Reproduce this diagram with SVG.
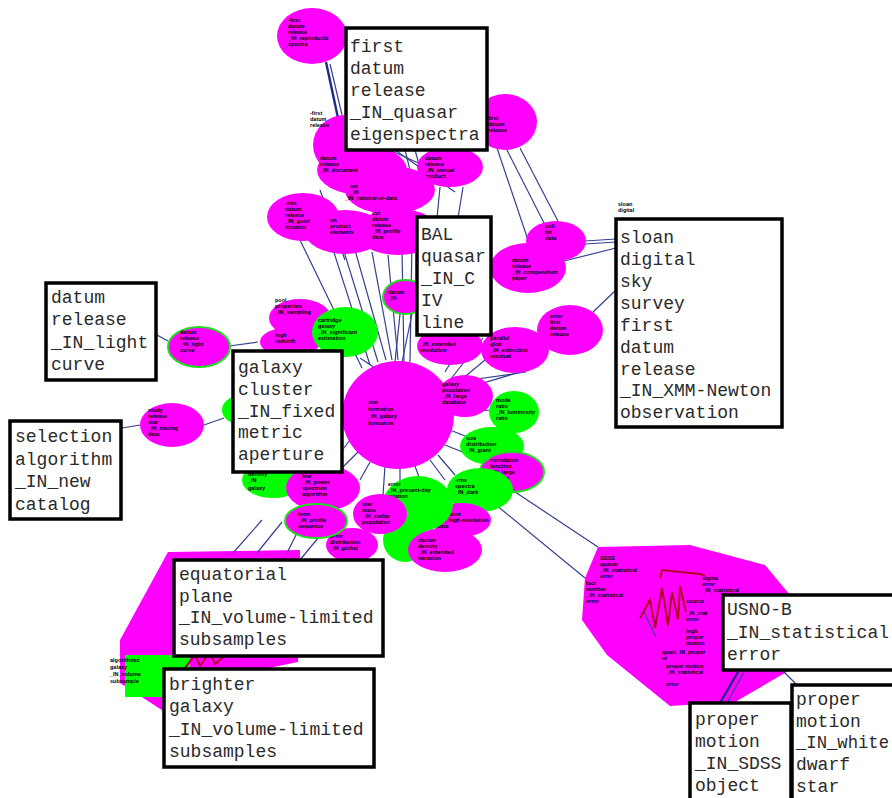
<svg xmlns="http://www.w3.org/2000/svg" width="892" height="798" viewBox="0 0 892 798">
<style>
.m{fill:#ff00ff}
.g{fill:#00ff00}
.mo{fill:#ff00ff;stroke:#22dd22;stroke-width:2}
.box{fill:#ffffff;stroke:#000000;stroke-width:3.5}
.lbl{font-family:"Liberation Mono","DejaVu Sans Mono",monospace;font-size:18px;fill:#2a2a2a}
.t{font-family:"Liberation Sans","DejaVu Sans",sans-serif;font-size:5.5px;fill:#000;font-weight:bold}
#connectors line{stroke:#35408f;stroke-width:1.2}
.thick{stroke-width:2.4 !important;stroke:#1c2a8a !important}
.red{fill:none;stroke:#b0002a;stroke-width:2}
</style>
<rect width="892" height="798" fill="#ffffff"/>

<!-- polygon clusters -->
<g id="cluster-lower-left">
<polygon class="m" points="168,552 300,550 300,600 298,662 230,676 165,712 120,683 120,640 150,585"/>
<rect class="g" x="125" y="655" width="65" height="42"/>
<text class="t" x="110" y="662">algorithmic</text>
<text class="t" x="110" y="669">galaxy</text>
<text class="t" x="110" y="676">_IN_volume</text>
<text class="t" x="110" y="683">subsample</text>
<path class="red" d="M185,668 L195,655 L200,666 L210,652 L215,664 L228,653"/>
</g>
<g id="cluster-lower-right">
<polygon class="m" points="598,547 690,545 765,565 790,595 790,670 735,702 670,706 607,655 582,620 585,578"/>
<text class="t" x="600" y="560">SDSS</text>
<text class="t" x="600" y="566">quasar</text>
<text class="t" x="600" y="572">_IN_statistical</text>
<text class="t" x="600" y="578">error</text>
<text class="t" x="586" y="585">fact</text>
<text class="t" x="586" y="591">number</text>
<text class="t" x="586" y="597">_IN_statistical</text>
<text class="t" x="586" y="603">error</text>
<text class="t" x="702" y="580">sigma</text>
<text class="t" x="702" y="586">error</text>
<text class="t" x="702" y="592">_IN_statistical</text>
<text class="t" x="686" y="603">source</text>
<text class="t" x="686" y="615">_IN_stat</text>
<text class="t" x="686" y="621">error</text>
<text class="t" x="686" y="633">high</text>
<text class="t" x="686" y="639">proper</text>
<text class="t" x="686" y="645">motion</text>
<text class="t" x="662" y="654">quasi_IN_proper</text>
<text class="t" x="662" y="660">or</text>
<text class="t" x="666" y="668">proper motion</text>
<text class="t" x="666" y="674">_IN_statistical</text>
<text class="t" x="666" y="686">error</text>
<path class="red" d="M660,578 L662,570 L700,574 L705,576"/>
<path class="red" d="M640,618 L650,600 L655,628 L662,588 L668,626 L672,592 L678,620 L680,586 L686,612"/>
</g>

<!-- connectors -->
<g id="connectors">
<line class="thick" x1="326" y1="62" x2="338" y2="118"/>
<line x1="330" y1="64" x2="342" y2="115"/>
<line x1="330" y1="240" x2="370" y2="365"/>
<line x1="342" y1="245" x2="378" y2="362"/>
<line x1="355" y1="250" x2="386" y2="360"/>
<line x1="372" y1="252" x2="392" y2="360"/>
<line x1="388" y1="255" x2="398" y2="360"/>
<line x1="402" y1="250" x2="404" y2="362"/>
<line x1="412" y1="240" x2="410" y2="362"/>
<line x1="300" y1="240" x2="362" y2="368"/>
<line x1="320" y1="190" x2="345" y2="260"/>
<line x1="360" y1="150" x2="420" y2="185"/>
<line x1="375" y1="150" x2="430" y2="190"/>
<line x1="385" y1="148" x2="445" y2="175"/>
<line x1="395" y1="150" x2="455" y2="192"/>
<line x1="405" y1="150" x2="410" y2="170"/>
<line x1="415" y1="150" x2="420" y2="168"/>
<line x1="440" y1="187" x2="437" y2="218"/>
<line x1="463" y1="187" x2="458" y2="218"/>
<line x1="497" y1="148" x2="528" y2="240"/>
<line x1="507" y1="150" x2="545" y2="225"/>
<line x1="520" y1="148" x2="560" y2="225"/>
<line x1="585" y1="241" x2="616" y2="239"/>
<line x1="585" y1="244" x2="616" y2="242"/>
<line x1="560" y1="262" x2="616" y2="248"/>
<line x1="593" y1="312" x2="616" y2="290"/>
<line x1="470" y1="330" x2="445" y2="372"/>
<line x1="483" y1="338" x2="450" y2="380"/>
<line x1="497" y1="350" x2="455" y2="385"/>
<line x1="520" y1="372" x2="460" y2="390"/>
<line x1="526" y1="372" x2="470" y2="380"/>
<line x1="400" y1="314" x2="395" y2="362"/>
<line x1="412" y1="314" x2="402" y2="362"/>
<line x1="360" y1="358" x2="375" y2="368"/>
<line x1="452" y1="412" x2="495" y2="410"/>
<line x1="450" y1="430" x2="470" y2="438"/>
<line x1="445" y1="445" x2="470" y2="455"/>
<line x1="438" y1="455" x2="455" y2="475"/>
<line x1="430" y1="460" x2="445" y2="480"/>
<line x1="415" y1="466" x2="420" y2="480"/>
<line x1="400" y1="468" x2="400" y2="482"/>
<line x1="385" y1="466" x2="383" y2="495"/>
<line x1="370" y1="462" x2="360" y2="480"/>
<line x1="358" y1="452" x2="340" y2="470"/>
<line x1="350" y1="440" x2="330" y2="466"/>
<line x1="500" y1="482" x2="598" y2="547"/>
<line x1="490" y1="500" x2="585" y2="578"/>
<line x1="262" y1="520" x2="233" y2="553"/>
<line x1="282" y1="522" x2="257" y2="553"/>
<line x1="300" y1="527" x2="287" y2="553"/>
<line x1="318" y1="538" x2="300" y2="560"/>
<line x1="157" y1="335" x2="168" y2="341"/>
<line x1="229" y1="346" x2="258" y2="342"/>
<line x1="122" y1="428" x2="140" y2="425"/>
<line x1="204" y1="425" x2="224" y2="418"/>
<line class="thick" x1="738" y1="672" x2="720" y2="703"/>
<line x1="744" y1="672" x2="727" y2="703"/>
<line x1="782" y1="670" x2="798" y2="686"/>
<line x1="644" y1="612" x2="656" y2="637"/>
</g>

<!-- ellipse nodes -->
<g id="n-top"><ellipse class="m" cx="312" cy="36" rx="35" ry="28"/>
<text class="t" x="288" y="22">-first</text><text class="t" x="288" y="28">datum</text><text class="t" x="288" y="34">release</text><text class="t" x="288" y="40">_IN_reproducib</text><text class="t" x="288" y="46">spectra</text></g>
<g id="n-topright"><ellipse class="m" cx="505" cy="122" rx="32" ry="28"/>
<text class="t" x="488" y="120">first</text><text class="t" x="488" y="126">datum</text><text class="t" x="488" y="132">release</text></g>
<g id="n-c1"><ellipse class="m" cx="345" cy="145" rx="32" ry="30"/>
<text class="t" x="310" y="115">-first</text><text class="t" x="310" y="121">datum</text><text class="t" x="310" y="127">release</text></g>
<g id="n-c2"><ellipse class="m" cx="362" cy="170" rx="45" ry="25"/>
<text class="t" x="320" y="160">datum</text><text class="t" x="320" y="166">release</text><text class="t" x="320" y="172">_IN_document</text></g>
<g id="n-c3"><ellipse class="m" cx="450" cy="167" rx="33" ry="20"/>
<text class="t" x="425" y="160">datum</text><text class="t" x="425" y="166">release</text><text class="t" x="425" y="172">_IN_annual</text><text class="t" x="425" y="178">product</text></g>
<g id="n-c4"><ellipse class="m" cx="390" cy="190" rx="45" ry="24"/>
<text class="t" x="350" y="188">sm</text><text class="t" x="350" y="194">_IN</text><text class="t" x="345" y="200">_IN_rational-or-data</text></g>
<g id="n-c5"><ellipse class="m" cx="303" cy="217" rx="36" ry="24"/>
<text class="t" x="285" y="205">-obs</text><text class="t" x="285" y="211">datum</text><text class="t" x="285" y="217">release</text><text class="t" x="285" y="223">_IN_good</text><text class="t" x="285" y="229">instance</text></g>
<g id="n-c6"><ellipse class="m" cx="345" cy="232" rx="40" ry="22"/>
<text class="t" x="330" y="222">on</text><text class="t" x="330" y="228">product</text><text class="t" x="330" y="234">elements</text></g>
<g id="n-c7"><ellipse class="m" cx="398" cy="232" rx="42" ry="23"/>
<text class="t" x="372" y="215">cut</text><text class="t" x="372" y="221">datum</text><text class="t" x="372" y="227">release</text><text class="t" x="372" y="233">_IN_profile</text><text class="t" x="372" y="239">data</text></g>
<g id="n-s1"><ellipse class="m" cx="556" cy="241" rx="30" ry="20"/>
<text class="t" x="545" y="228">coll</text><text class="t" x="545" y="234">bit</text><text class="t" x="545" y="240">data</text></g>
<g id="n-s2"><ellipse class="m" cx="528" cy="268" rx="38" ry="25"/>
<text class="t" x="512" y="262">datum</text><text class="t" x="512" y="268">release</text><text class="t" x="512" y="274">_IN_compendium</text><text class="t" x="512" y="280">paper</text></g>
<g id="n-s3"><ellipse class="m" cx="570" cy="330" rx="33" ry="25"/>
<text class="t" x="550" y="318">error</text><text class="t" x="550" y="324">first</text><text class="t" x="550" y="330">datum</text><text class="t" x="550" y="336">release</text></g>
<g id="n-s4"><ellipse class="m" cx="515" cy="350" rx="34" ry="23"/>
<text class="t" x="490" y="340">parallel</text><text class="t" x="490" y="346">glob</text><text class="t" x="490" y="352">_IN_extinction</text><text class="t" x="490" y="358">residual</text></g>
<g id="n-bal"><ellipse class="m" cx="450" cy="346" rx="33" ry="19"/>
<text class="t" x="420" y="346">_IN_extended</text><text class="t" x="420" y="352">resolution</text></g>
<g id="n-bal2"><ellipse class="mo" cx="405" cy="297" rx="22" ry="17"/>
<text class="t" x="388" y="294">datum</text><text class="t" x="388" y="300">_IN</text></g>
<g id="n-center"><ellipse class="m" cx="398" cy="415" rx="56" ry="54"/>
<text class="t" x="368" y="404">star</text><text class="t" x="368" y="411">formation</text><text class="t" x="368" y="418">_IN_galaxy</text><text class="t" x="368" y="425">formation</text></g>
<g id="n-db"><ellipse class="m" cx="465" cy="396" rx="28" ry="21"/>
<text class="t" x="442" y="386">galaxy</text><text class="t" x="442" y="392">population</text><text class="t" x="442" y="398">_IN_large</text><text class="t" x="442" y="404">database</text></g>
<g id="n-g1"><ellipse class="g" cx="514" cy="412" rx="25" ry="21"/>
<text class="t" x="496" y="402">mode</text><text class="t" x="496" y="408">ratio</text><text class="t" x="496" y="414">_IN_luminosity</text><text class="t" x="496" y="420">ratio</text></g>
<g id="n-g2"><ellipse class="g" cx="492" cy="446" rx="32" ry="19"/>
<text class="t" x="466" y="440">size</text><text class="t" x="466" y="446">distribution</text><text class="t" x="466" y="452">_IN_giant</text></g>
<g id="n-g3"><ellipse class="mo" cx="512" cy="472" rx="32" ry="20"/>
<text class="t" x="490" y="462">correlation</text><text class="t" x="490" y="468">function</text><text class="t" x="490" y="474">_IN_large</text><text class="t" x="490" y="480">sample</text></g>
<g id="n-g4"><ellipse class="g" cx="480" cy="490" rx="33" ry="22"/>
<text class="t" x="455" y="482">-rms</text><text class="t" x="455" y="488">spectra</text><text class="t" x="455" y="494">_IN_dark</text></g>
<g id="n-g5"><ellipse class="m" cx="461" cy="520" rx="30" ry="17"/>
<text class="t" x="437" y="516">emission</text><text class="t" x="437" y="522">_IN_high-resolution</text><text class="t" x="437" y="528">data</text></g>
<g id="n-g6"><ellipse class="g" cx="418" cy="504" rx="35" ry="28"/>
<text class="t" x="388" y="486">error</text><text class="t" x="388" y="492">_IN_present-day</text><text class="t" x="388" y="498">relation</text></g>
<g id="n-g7"><ellipse class="g" cx="405" cy="540" rx="22" ry="22"/></g>
<g id="n-g8"><ellipse class="m" cx="445" cy="550" rx="37" ry="22"/>
<text class="t" x="418" y="542">cluster</text><text class="t" x="418" y="548">density</text><text class="t" x="418" y="554">_IN_extended</text><text class="t" x="418" y="560">variation</text></g>
<g id="n-l1"><ellipse class="m" cx="380" cy="514" rx="27" ry="20"/>
<text class="t" x="362" y="506">star</text><text class="t" x="362" y="512">mass</text><text class="t" x="362" y="518">_IN_stellar</text><text class="t" x="362" y="524">population</text></g>
<g id="n-l2"><ellipse class="m" cx="352" cy="545" rx="26" ry="17"/>
<text class="t" x="330" y="538">error</text><text class="t" x="330" y="544">distribution</text><text class="t" x="330" y="550">_IN_global</text></g>
<g id="n-l3"><ellipse class="g" cx="273" cy="480" rx="31" ry="18"/>
<text class="t" x="248" y="476">density</text><text class="t" x="248" y="482">_IN</text><text class="t" x="248" y="490">galaxy</text></g>
<g id="n-l4"><ellipse class="m" cx="323" cy="488" rx="37" ry="23"/>
<text class="t" x="302" y="478">low</text><text class="t" x="302" y="484">_IN_power</text><text class="t" x="302" y="490">spectrum</text><text class="t" x="302" y="496">algorithm</text></g>
<g id="n-l5"><ellipse class="mo" cx="316" cy="521" rx="31" ry="17"/>
<text class="t" x="298" y="516">form</text><text class="t" x="298" y="522">_IN_profile</text><text class="t" x="298" y="528">sequence</text></g>
<g id="n-ul1"><ellipse class="m" cx="300" cy="318" rx="31" ry="19"/>
<text class="t" x="275" y="302">pool</text><text class="t" x="275" y="308">properties</text><text class="t" x="275" y="314">_IN_sampling</text></g>
<g id="n-ul2"><ellipse class="m" cx="290" cy="342" rx="30" ry="15"/>
<text class="t" x="275" y="337">high</text><text class="t" x="275" y="343">redshift</text></g>
<g id="n-ul3"><ellipse class="g" cx="345" cy="332" rx="33" ry="25"/>
<text class="t" x="318" y="322">cartridge</text><text class="t" x="318" y="328">galaxy</text><text class="t" x="318" y="334">_IN_significant</text><text class="t" x="318" y="340">estimation</text></g>
<g id="n-lc"><ellipse class="mo" cx="199" cy="347" rx="31" ry="20"/>
<text class="t" x="180" y="334">datum</text><text class="t" x="180" y="340">release</text><text class="t" x="180" y="346">_IN_light</text><text class="t" x="180" y="352">curve</text></g>
<g id="n-gl"><ellipse class="g" cx="240" cy="410" rx="18" ry="14"/></g>
<g id="n-sel"><ellipse class="m" cx="172" cy="425" rx="32" ry="22"/>
<text class="t" x="148" y="412">study</text><text class="t" x="148" y="418">release</text><text class="t" x="148" y="424">star</text><text class="t" x="148" y="430">_IN_tracing</text><text class="t" x="148" y="436">data</text></g>
<text class="t" x="618" y="206">sloan</text><text class="t" x="618" y="212">digital</text>

<!-- label boxes -->
<g id="box-quasar-eigenspectra"><rect class="box" x="346" y="28" width="141" height="122"/>
<text class="lbl" x="350" y="52">first</text><text class="lbl" x="350" y="74">datum</text><text class="lbl" x="350" y="96">release</text><text class="lbl" x="350" y="118">_IN_quasar</text><text class="lbl" x="350" y="140">eigenspectra</text></g>
<g id="box-bal"><rect class="box" x="417" y="217" width="74" height="118"/>
<text class="lbl" x="421" y="240">BAL</text><text class="lbl" x="421" y="262">quasar</text><text class="lbl" x="421" y="284">_IN_C</text><text class="lbl" x="421" y="306">IV</text><text class="lbl" x="421" y="328">line</text></g>
<g id="box-sloan"><rect class="box" x="616" y="219" width="166" height="208"/>
<text class="lbl" x="620" y="243">sloan</text><text class="lbl" x="620" y="265">digital</text><text class="lbl" x="620" y="287">sky</text><text class="lbl" x="620" y="309">survey</text><text class="lbl" x="620" y="331">first</text><text class="lbl" x="620" y="353">datum</text><text class="lbl" x="620" y="375">release</text><text class="lbl" x="620" y="396">_IN_XMM-Newton</text><text class="lbl" x="620" y="418">observation</text></g>
<g id="box-light-curve"><rect class="box" x="46" y="283" width="110" height="97"/>
<text class="lbl" x="51" y="303">datum</text><text class="lbl" x="51" y="325">release</text><text class="lbl" x="51" y="348">_IN_light</text><text class="lbl" x="51" y="370">curve</text></g>
<g id="box-galaxy-cluster"><rect class="box" x="233" y="351" width="109" height="121"/>
<text class="lbl" x="238" y="373">galaxy</text><text class="lbl" x="238" y="395">cluster</text><text class="lbl" x="238" y="417">_IN_fixed</text><text class="lbl" x="238" y="438">metric</text><text class="lbl" x="238" y="460">aperture</text></g>
<g id="box-selection"><rect class="box" x="10" y="421" width="111" height="98"/>
<text class="lbl" x="15" y="442">selection</text><text class="lbl" x="15" y="465">algorithm</text><text class="lbl" x="15" y="487">_IN_new</text><text class="lbl" x="15" y="510">catalog</text></g>
<g id="box-equatorial"><rect class="box" x="174" y="560" width="209" height="96"/>
<text class="lbl" x="179" y="580">equatorial</text><text class="lbl" x="179" y="602">plane</text><text class="lbl" x="179" y="623">_IN_volume-limited</text><text class="lbl" x="179" y="645">subsamples</text></g>
<g id="box-brighter"><rect class="box" x="164" y="669" width="210" height="98"/>
<text class="lbl" x="169" y="690">brighter</text><text class="lbl" x="169" y="712">galaxy</text><text class="lbl" x="169" y="735">_IN_volume-limited</text><text class="lbl" x="169" y="757">subsamples</text></g>
<g id="box-usno"><rect class="box" x="723" y="595" width="175" height="75"/>
<text class="lbl" x="727" y="615">USNO-B</text><text class="lbl" x="727" y="638">_IN_statistical</text><text class="lbl" x="727" y="660">error</text></g>
<g id="box-sdss-object"><rect class="box" x="690" y="703" width="101" height="100"/>
<text class="lbl" x="695" y="725">proper</text><text class="lbl" x="695" y="747">motion</text><text class="lbl" x="695" y="769">_IN_SDSS</text><text class="lbl" x="695" y="791">object</text></g>
<g id="box-white-dwarf"><rect class="box" x="792" y="685" width="110" height="118"/>
<text class="lbl" x="796" y="705">proper</text><text class="lbl" x="796" y="727">motion</text><text class="lbl" x="796" y="748" textLength="93" lengthAdjust="spacingAndGlyphs">_IN_white</text><text class="lbl" x="796" y="770">dwarf</text><text class="lbl" x="796" y="792">star</text></g>
</svg>
